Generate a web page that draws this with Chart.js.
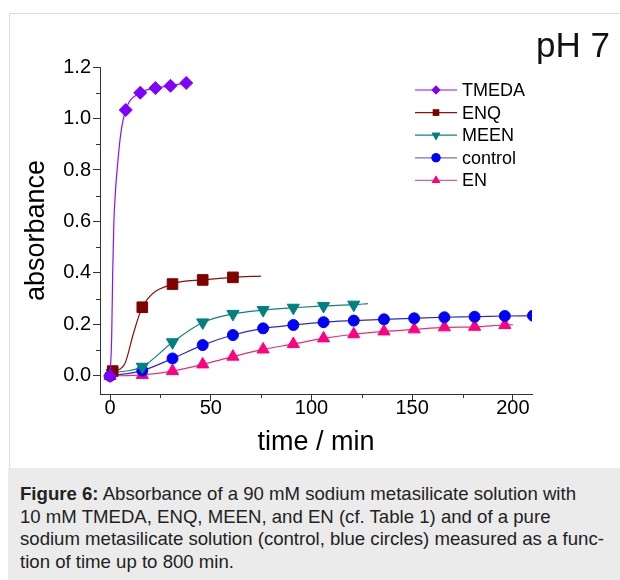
<!DOCTYPE html>
<html>
<head>
<meta charset="utf-8">
<script src="https://cdn.jsdelivr.net/npm/chart.js@4.4.0/dist/chart.umd.min.js"></script>
<style>
  body { margin:0; background:#fff; font-family:"Liberation Sans", Arial, sans-serif; }
  #frame { position:absolute; left:9px; top:13px; width:611px; height:455px; border-left:1px solid #dcdcdc; border-top:1px solid #dcdcdc; }
  #wrap { position:absolute; left:0; top:0; width:620px; height:468px; }
  #ph { position:absolute; right:10px; top:25px; font-size:35px; color:#111; }
  #caption { position:absolute; left:8px; top:468px; width:612px; height:112px; background:#ebebeb; }
  #caption p { margin:0; position:absolute; left:12px; top:15px; font-size:18.6px; line-height:22.7px; color:#222; white-space:nowrap; }
</style>
</head>
<body>
<div id="frame"></div>
<div id="wrap"><canvas id="chart" width="620" height="468"></canvas></div>
<div id="ph">pH 7</div>
<div id="caption"><p><b>Figure 6:</b> Absorbance of a 90 mM sodium metasilicate solution with<br>10 mM TMEDA, ENQ, MEEN, and EN (cf. Table 1) and of a pure<br>sodium metasilicate solution (control, blue circles) measured as a func-<br>tion of time up to 800 min.</p></div>
<script>
// values; *Mark = 1 where a symbol is drawn, 0 = point on the fitted curve only
const tmedaTime = [0, 0.8, 1.3, 1.9, 2.7, 3.6, 5.3, 7.8, 15, 22.5, 30, 37.8];
const tmedaAbs  = [0, 0.15, 0.40, 0.60, 0.72, 0.81, 0.94, 1.033, 1.10, 1.118, 1.127, 1.138];
const tmedaMark = [1, 0, 0, 0, 0, 0, 0, 1, 1, 1, 1, 1];

const enqTime = [1.3, 4.5, 7.5, 11.6, 16, 31, 46, 61, 75];
const enqAbs  = [0.019, 0.025, 0.05, 0.165, 0.267, 0.357, 0.373, 0.383, 0.388];
const enqMark = [1, 0, 0, 0, 1, 1, 1, 1, 0];

const meenTime = [1, 16, 31, 46, 61, 76, 91, 106, 121, 128];
const meenAbs  = [0.012, 0.036, 0.131, 0.208, 0.241, 0.256, 0.265, 0.272, 0.277, 0.281];
const meenMark = [1, 1, 1, 1, 1, 1, 1, 1, 1, 0];

const ctrlTime = [0, 16, 31, 46, 61, 76, 91, 106, 121, 136, 151, 166, 181, 196, 210];
const ctrlAbs  = [0, 0.021, 0.068, 0.12, 0.159, 0.185, 0.198, 0.209, 0.215, 0.22, 0.224, 0.228, 0.23, 0.233, 0.234];
const ctrlMark = [1, 1, 1, 1, 1, 1, 1, 1, 1, 1, 1, 1, 1, 1, 1];

const enTime = [0, 16, 31, 46, 61, 76, 91, 106, 121, 136, 151, 166, 181, 196, 200];
const enAbs  = [0, 0.004, 0.019, 0.045, 0.075, 0.103, 0.124, 0.146, 0.162, 0.173, 0.181, 0.189, 0.191, 0.198, 0.199];
const enMark = [1, 1, 1, 1, 1, 1, 1, 1, 1, 1, 1, 1, 1, 1, 0];

const xTicks = [0, 50, 100, 150, 200];
const yTicks = [0.0, 0.2, 0.4, 0.6, 0.8, 1.0, 1.2];

const pts = (t, a) => t.map((x, i) => ({x: x, y: a[i]}));

const mk = (label, t, a, m, line, fill, style, rad, rot) => ({
  label: label,
  data: pts(t, a),
  borderColor: line,
  borderWidth: 1.2,
  backgroundColor: fill,
  pointBackgroundColor: fill,
  pointBorderColor: fill,
  pointBorderWidth: 1,
  pointStyle: style,
  pointRotation: rot || 0,
  pointRadius: m.map(v => v ? rad : 0),
  cubicInterpolationMode: 'monotone',
  fill: false
});

const datasets = [
  mk('TMEDA', tmedaTime, tmedaAbs, tmedaMark, '#8a10ff', '#8000ff', 'rectRot', 6.5),
  mk('ENQ', enqTime, enqAbs, enqMark, '#8b1010', '#800000', 'rect', 7.5),
  mk('MEEN', meenTime, meenAbs, meenMark, '#138080', '#008080', 'triangle', 7, 180),
  mk('control', ctrlTime, ctrlAbs, ctrlMark, '#2a2ad0', '#0000ff', 'circle', 5.5),
  mk('EN', enTime, enAbs, enMark, '#e0307a', '#ff0080', 'triangle', 7)
];

// legend line colours are a bit paler in the original
const legendLine = ['#8a10ff', '#8b1010', '#138080', '#7070c8', '#d86098'];

const extras = {
  id: 'extras',
  afterDraw(chart) {
    const c = chart.ctx;
    const xs = chart.scales.x, ys = chart.scales.y;
    const a = chart.chartArea;
    c.save();
    c.strokeStyle = '#333';
    c.lineWidth = 1;
    // minor ticks
    [25, 75, 125, 175].forEach(v => {
      const px = Math.round(xs.getPixelForValue(v)) + 0.5;
      c.beginPath(); c.moveTo(px, a.bottom); c.lineTo(px, a.bottom + 4); c.stroke();
    });
    [0.1, 0.3, 0.5, 0.7, 0.9, 1.1].forEach(v => {
      const py = Math.round(ys.getPixelForValue(v)) + 0.5;
      c.beginPath(); c.moveTo(a.left, py); c.lineTo(a.left - 4, py); c.stroke();
    });
    // legend
    c.font = '18px "Liberation Sans", Arial, sans-serif';
    c.textBaseline = 'middle';
    c.fillStyle = '#000';
    chart.data.datasets.forEach((ds, i) => {
      const y = 90 + i * 22.6;
      c.strokeStyle = legendLine[i];
      c.lineWidth = 1.2;
      c.beginPath(); c.moveTo(415, y); c.lineTo(457, y); c.stroke();
      c.fillStyle = ds.pointBackgroundColor;
      Chart.helpers.drawPoint(c, {pointStyle: ds.pointStyle, rotation: ds.pointRotation, radius: ds.pointStyle === 'triangle' ? 5 : 4.5, borderWidth: 0}, 436, y);
      c.fill();
      c.fillStyle = '#000';
      c.fillText(ds.label, 462, y + 1);
    });
    c.restore();
  }
};

const ctx = document.getElementById('chart').getContext('2d');
new Chart(ctx, {
  type: 'line',
  data: { datasets: datasets },
  options: {
    responsive: false,
    animation: false,
    layout: { padding: { left: 0, top: 67, right: 88, bottom: 0 } },
    plugins: { legend: { display: false }, tooltip: { enabled: false } },
    scales: {
      x: {
        type: 'linear',
        min: -5, max: 209.5,
        afterFit: s => { s.height = 74; },
        ticks: {
          stepSize: 50, includeBounds: false, padding: -5,
          color: '#000', font: { family: '"Liberation Sans", Arial, sans-serif', size: 20 },
          callback: v => xTicks.includes(v) ? String(v) : ''
        },
        grid: { drawOnChartArea: false, drawTicks: true, tickLength: 7, tickColor: '#333' },
        border: { color: '#333', width: 1 },
        title: { display: true, text: 'time / min', color: '#000', padding: { top: 0, bottom: 9 },
                 font: { family: '"Liberation Sans", Arial, sans-serif', size: 27 } }
      },
      y: {
        min: -0.07, max: 1.2,
        afterFit: s => { s.width = 100; },
        ticks: {
          stepSize: 0.2, includeBounds: false, padding: 2,
          color: '#000', font: { family: '"Liberation Sans", Arial, sans-serif', size: 20 },
          callback: v => yTicks.some(t => Math.abs(t - v) < 1e-6) ? v.toFixed(1) : ''
        },
        grid: { drawOnChartArea: false, drawTicks: true, tickLength: 7, tickColor: '#333' },
        border: { color: '#333', width: 1 },
        title: { display: true, text: 'absorbance', color: '#000', padding: { top: 20, bottom: 0 },
                 font: { family: '"Liberation Sans", Arial, sans-serif', size: 27 } }
      }
    }
  },
  plugins: [extras]
});
</script>
</body>
</html>
